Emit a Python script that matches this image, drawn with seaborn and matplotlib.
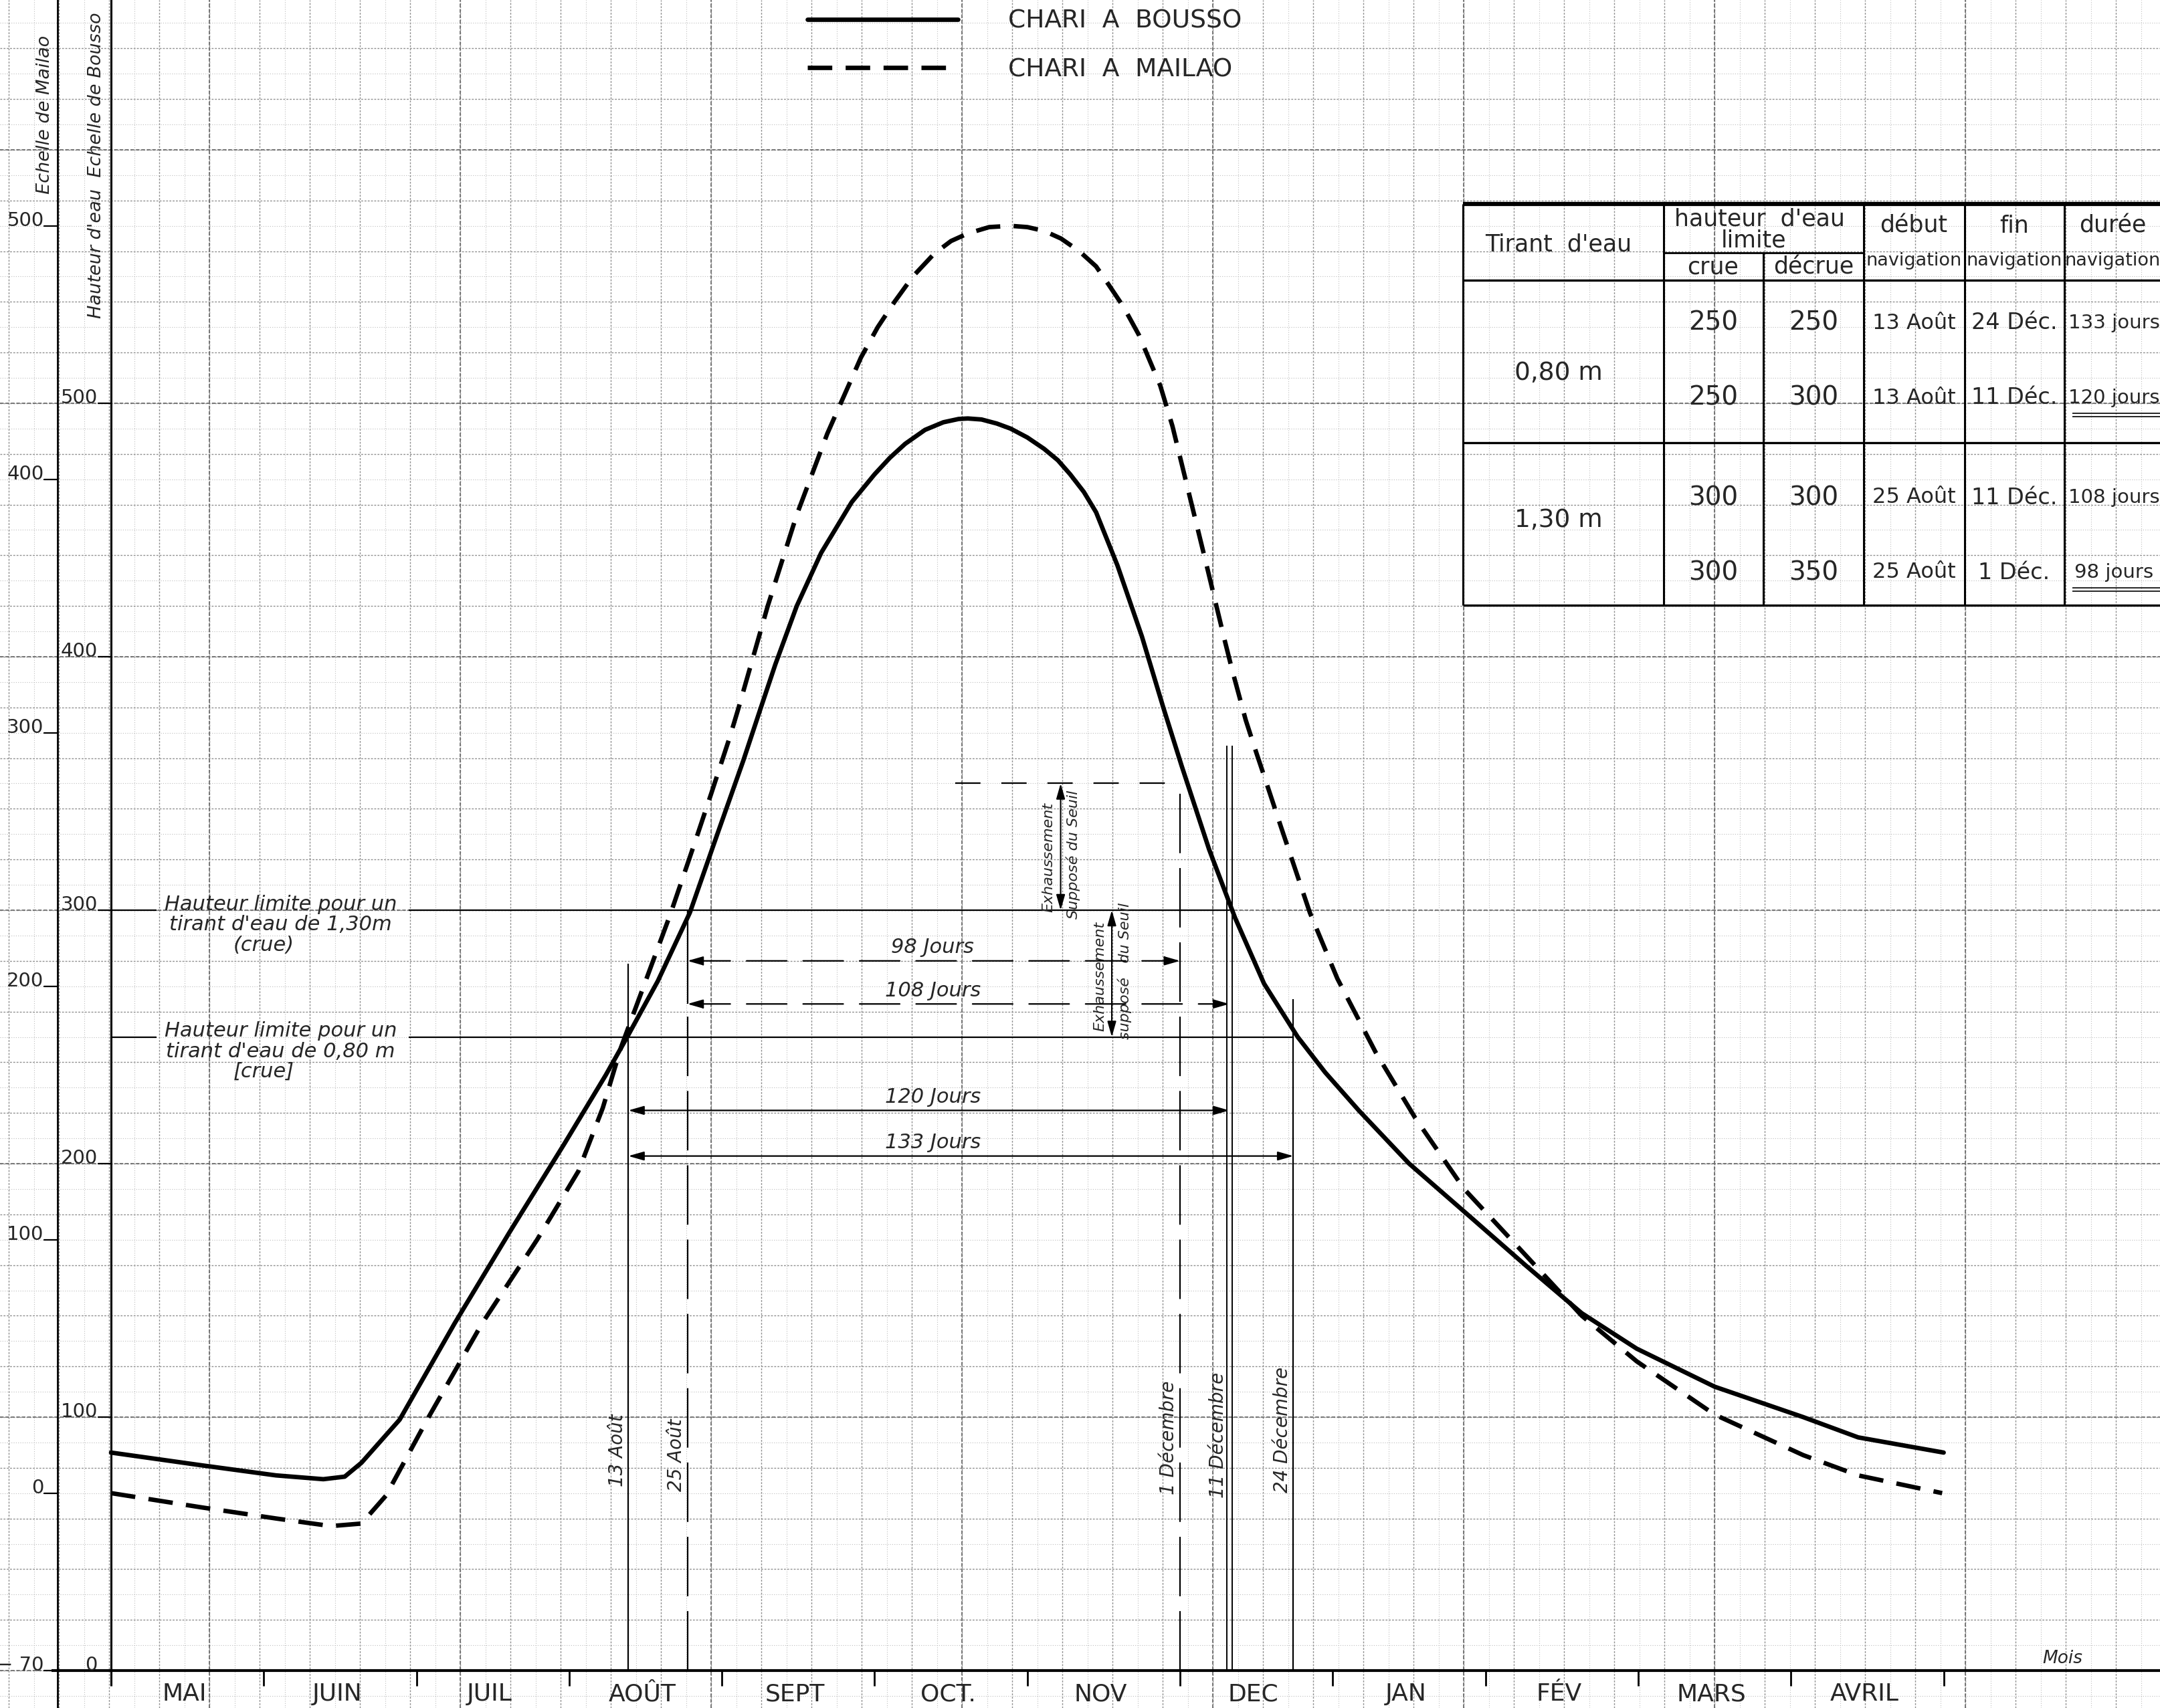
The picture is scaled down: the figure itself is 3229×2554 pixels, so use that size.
import numpy as np
import pandas as pd
import matplotlib
matplotlib.use("Agg")
import matplotlib.pyplot as plt
from matplotlib.ticker import MultipleLocator
import seaborn as sns

# time axis: months counted from 1 May (0 = 1 Mai, 1 = 1 Juin, ...)
month_names = ["MAI", "JUIN", "JUIL", "AOÛT", "SEPT", "OCT.", "NOV", "DEC",
               "JAN", "FÉV", "MARS", "AVRIL"]

# Chari a Bousso, read on the Bousso scale
bousso_t = [0.0, 0.59, 1.08, 1.39, 1.53, 1.64, 1.89, 2.25, 2.61, 2.97, 3.24, 3.38,
            3.58, 3.79, 3.97, 4.14, 4.25, 4.35, 4.49, 4.65, 4.85, 5.0, 5.1, 5.2,
            5.33, 5.45, 5.55, 5.61, 5.7, 5.8, 5.89, 6.0, 6.11, 6.2, 6.28, 6.37,
            6.45, 6.59, 6.75, 6.89, 7.01, 7.19, 7.36, 7.55, 7.77, 7.95, 8.17, 8.5,
            8.9, 9.26, 9.63, 9.99, 10.5, 11.08, 11.44, 12.0]
bousso_h = [86, 81, 77, 75.5, 76.5, 82, 99, 137, 173, 208, 235, 250,
            272, 299, 330, 359, 379, 397, 420, 441, 461, 472, 478.5, 484,
            489.5, 492.5, 493.8, 494, 493.6, 492, 490, 486.5, 482, 477.5, 472, 465,
            457, 436, 408, 380, 357, 324, 297, 271, 250, 236, 221, 200,
            179, 160, 141, 127, 112, 100, 92, 86]

# Chari a Mailao, read on the Mailao scale
mailao_t = [0.0, 0.59, 1.08, 1.44, 1.64, 1.80, 2.07, 2.43, 2.79, 3.06, 3.22, 3.34,
            3.50, 3.66, 3.83, 3.93, 4.05, 4.11, 4.30, 4.49, 4.69, 4.91, 5.02, 5.13,
            5.25, 5.39, 5.50, 5.61, 5.75, 5.89, 6.00, 6.11, 6.22, 6.34, 6.45, 6.53,
            6.63, 6.73, 6.87, 6.95, 7.06, 7.17, 7.29, 7.34, 7.43, 7.50, 7.55, 7.66,
            7.85, 8.03, 8.28, 8.54, 8.86, 9.23, 9.63, 9.99, 10.50, 11.08, 11.44, 11.99]
mailao_h = [0, -5.6, -10, -13, -12, -1, 29, 67, 100, 127, 152, 176,
            202, 228, 258, 276, 298, 310, 350, 386, 418, 448, 460, 470,
            480, 489, 494, 497, 499.5, 500, 499.5, 498, 495, 490, 484, 477,
            468, 457, 437, 421, 394, 367, 337, 325, 305, 292, 283, 263,
            229, 203, 174, 148, 120, 96, 70, 52, 31, 15, 7, 0]

mailao_zero = 70  # 0 of the Mailao scale sits at 70 on the Bousso scale
bousso_ticks = [0, 100, 200, 300, 400, 500]
mailao_ticks = [-70, 0, 100, 200, 300, 400, 500]

# navigation dates
date_names = ["13 Août", "25 Août", "1 Décembre", "11 Décembre", "24 Décembre"]
date_month = [3, 3, 7, 7, 7]
date_day = [13, 25, 1, 11, 24]
date_top = [279, 300, 350, 365, 265]

# water level limits (crue) for each draught
limit_h = [300, 250]
limit_text = [["Hauteur limite pour un", "tirant d'eau de 1,30m", "(crue)"],
              ["Hauteur limite pour un", "tirant d'eau de 0,80 m", "[crue]"]]
raise_h = 350  # supposed raising of the sill

# navigation periods
period_days = [98, 108, 120, 133]
period_start = [1, 1, 0, 0]
period_end = [2, 3, 3, 4]
period_y = [280, 263, 221, 203]
period_dashed = [True, True, False, False]

# summary table
tab_tirant = ["0,80 m", "1,30 m"]
tab_crue = [250, 250, 300, 300]
tab_decrue = [250, 300, 300, 350]
tab_debut = ["13 Août", "13 Août", "25 Août", "25 Août"]
tab_fin = ["24 Déc.", "11 Déc.", "11 Déc.", "1 Déc."]
tab_duree = [133, 120, 108, 98]

date_x = [m + (d - 1) / 31 for m, d in zip(date_month, date_day)]

sns.set_style("white")
plt.rcParams["font.family"] = ["DejaVu Sans"]

fig = plt.figure(figsize=(32.3, 25.54), dpi=100)
ax = fig.add_axes([0, 0, 1, 1])
ax.set_xlim(-166 / 228.3, (3230 - 166) / 228.3)
ax.set_ylim(-56 / 3.79, 2498 / 3.79)
for s in ax.spines.values():
    s.set_visible(False)

# graph paper
ax.xaxis.set_major_locator(MultipleLocator(0.32852, offset=-0.013))
ax.xaxis.set_minor_locator(MultipleLocator(0.16426, offset=-0.013))
ax.yaxis.set_major_locator(MultipleLocator(20))
ax.yaxis.set_minor_locator(MultipleLocator(10))
ax.tick_params(which="both", length=0, labelbottom=False, labelleft=False)
ax.grid(which="major", color="#8f8f8f", lw=1.0, ls=(0, (2, 1.5)))
ax.grid(which="minor", color="#bdbdbd", lw=0.8, ls=(0, (1, 2)))
ax.set_axisbelow(True)
for yv in range(0, 700, 100):
    ax.axhline(yv, color="#6e6e6e", lw=1.3, ls=(0, (3, 1.5)), zorder=0.6)
for xv in np.arange(0.6439 - 1.6426, 13.5, 1.6426):
    ax.axvline(xv, color="#6e6e6e", lw=1.3, ls=(0, (3, 1.5)), zorder=0.6)

# axes of the two scales and time axis
x_mailao_axis = -0.352
ax.vlines(0, -6, 660, color="k", lw=2.2)
ax.vlines(x_mailao_axis, -15, 660, color="k", lw=2.0)
ax.hlines(0, -0.39, 13.5, color="k", lw=3.0)
ax.vlines(range(1, 13), -6, 0, color="k", lw=2.0)
for i, name in enumerate(month_names):
    ax.text(i + 0.48, -11.9, name, ha="center", va="baseline", fontsize=26)
ax.text(12.78, 3, "Mois", ha="center", va="baseline", fontsize=19, style="italic")

for v in mailao_ticks:
    yb = v + mailao_zero
    lab = "\u2212 70" if v < 0 else str(v)
    ax.text(-0.44, yb, lab, ha="right", va="baseline", fontsize=21)
    ax.plot([-0.438, x_mailao_axis], [yb, yb], color="k", lw=1.6)
for v in bousso_ticks:
    ax.text(-0.088, v, str(v), ha="right", va="baseline", fontsize=21)
    ax.plot([-0.085, 0], [v, v], color="k", lw=1.6)

ax.text(-0.434, 614, "Echelle de Mailao", rotation=90, ha="center", va="center",
        fontsize=19.5, style="italic")
ax.text(-0.096, 594, "Hauteur d'eau  Echelle de Bousso", rotation=90, ha="center",
        va="center", fontsize=19.5, style="italic")

# limit lines with their labels
for h, lines, xe in zip(limit_h, limit_text, [date_x[3], date_x[4]]):
    ax.hlines(h, 0, 0.30, color="k", lw=1.6)
    ax.hlines(h, 1.95, xe, color="k", lw=1.6)
    for k, t in enumerate(lines):
        xc = 1.11 if k < 2 else 1.0
        ax.text(xc, h - 8 * k, t, ha="center", va="baseline", fontsize=22,
                style="italic")

# supposed raising of the sill
ax.hlines(raise_h, 5.53, date_x[2], color="k", lw=1.6, ls=(0, (17, 14)))
arrow = dict(arrowstyle="<|-|>,head_length=0.7,head_width=0.2", color="k", lw=1.5,
             shrinkA=0, shrinkB=0, mutation_scale=20)
for xa, (y0, y1), yt1, yt2, t2 in [(6.218, (raise_h, limit_h[0]), 321, 322, "Supposé du Seuil"),
                                    (6.553, (limit_h[0], limit_h[1]), 274, 276, "supposé   du Seuil")]:
    ax.annotate("", xy=(xa, y0), xytext=(xa, y1), arrowprops=arrow)
    ax.text(xa - 0.035, yt1, "Exhaussement", rotation=90, ha="right", va="center",
            fontsize=16, style="italic")
    ax.text(xa + 0.035, yt2, t2, rotation=90, ha="left", va="center",
            fontsize=16, style="italic")

# vertical date lines
ax.vlines(date_x[0], 0, date_top[0], color="k", lw=1.6)
ax.vlines(date_x[1], period_y[1], date_top[1], color="k", lw=1.6)
ax.vlines(date_x[1], 0, period_y[1], color="k", lw=1.6, ls=(0, (40, 10)))
ax.vlines(date_x[2], 0, date_top[2], color="k", lw=1.6, ls=(0, (40, 10)))
ax.vlines([date_x[3] - 0.017, date_x[3] + 0.017], 0, date_top[3], color="k", lw=1.4)
ax.vlines(date_x[4], 0, date_top[4], color="k", lw=1.6)
for xd, name, yc in zip(date_x, date_names, [87, 85, 92, 93, 95]):
    ax.text(xd - 0.012, yc, name, rotation=90, ha="right", va="center",
            fontsize=20, style="italic")

# navigation periods
for d, i0, i1, yp, dash in zip(period_days, period_start, period_end, period_y, period_dashed):
    props = dict(arrow)
    props["lw"] = 1.6
    if dash:
        props["linestyle"] = (0, (27, 11))
    ax.annotate("", xy=(date_x[i1], yp), xytext=(date_x[i0], yp), arrowprops=props)
    ax.text(5.38, yp + 1.5, f"{d} Jours", ha="center", va="bottom", fontsize=22,
            style="italic")

# hydrographs
sns.lineplot(x=bousso_t, y=bousso_h, ax=ax, color="k", lw=4.8,
             label="CHARI  A  BOUSSO", legend=False)
line_b = ax.lines[-1]
line_b.set_solid_joinstyle("round")
ax2 = ax.twinx()
ax2.set_ylim(ax.get_ylim()[0] - mailao_zero, ax.get_ylim()[1] - mailao_zero)
sns.lineplot(x=mailao_t, y=mailao_h, ax=ax2, color="k", lw=4.8,
             linestyle=(0, (5.5, 3.0)), label="CHARI  A  MAILAO", legend=False)
line_m = ax2.lines[-1]
ax2.axis("off")

ax2.legend([line_b, line_m], ["CHARI  A  BOUSSO", "CHARI  A  MAILAO"],
           loc="upper left", bbox_to_anchor=(1207 / 3230, 1 - 14 / 2554),
           bbox_transform=fig.transFigure, frameon=False, borderpad=0,
           borderaxespad=0, handlelength=6.0, handletextpad=2.0, labelspacing=0.97,
           fontsize=27)

# summary table (drawn in pixel space)
tab = fig.add_axes([0, 0, 1, 1], facecolor="none")
tab.set_xlim(0, 3230)
tab.set_ylim(2554, 0)
tab.axis("off")
tab.hlines(305, 2187, 3240, color="k", lw=4.5)
tab.hlines([419, 662, 905], 2187, 3240, color="k", lw=2.4)
tab.hlines(378, 2487, 2786, color="k", lw=2.0)
tab.vlines([2187, 2487, 2786, 2937, 3086], 305, 905, color="k", lw=2.2)
tab.vlines(2636, 378, 905, color="k", lw=2.2)

hdr = dict(ha="center", va="center", fontsize=25)
tab.text(2330, 365, "Tirant  d'eau", **hdr)
tab.text(2630, 328, "hauteur  d'eau", **hdr)
tab.text(2622, 360, "limite", **hdr)
tab.text(2561, 400, "crue", **hdr)
tab.text(2711, 400, "décrue", **hdr)
for xc, t in zip([2861, 3011, 3158], ["début", "fin", "durée"]):
    tab.text(xc, 338, t, **hdr)
    tab.text(xc, 390, "navigation", ha="center", va="center", fontsize=19.5)

row_y = [483, 595, 744, 856]
for yr, c, dc, db, fn, du in zip(row_y, tab_crue, tab_decrue, tab_debut, tab_fin, tab_duree):
    tab.text(2561, yr, str(c), ha="center", va="center", fontsize=28)
    tab.text(2711, yr, str(dc), ha="center", va="center", fontsize=28)
    tab.text(2861, yr, db, ha="center", va="center", fontsize=23)
    tab.text(3011, yr, fn, ha="center", va="center", fontsize=24)
    tab.text(3160, yr, f"{du} jours", ha="center", va="center", fontsize=21)
for yr, t in zip([558, 778], tab_tirant):
    tab.text(2330, yr, t, ha="center", va="center", fontsize=27)
for yr in [row_y[1], row_y[3]]:
    tab.hlines([yr + 23, yr + 28], 3098, 3230, color="k", lw=1.2)

fig.savefig("out.png", dpi=100)
